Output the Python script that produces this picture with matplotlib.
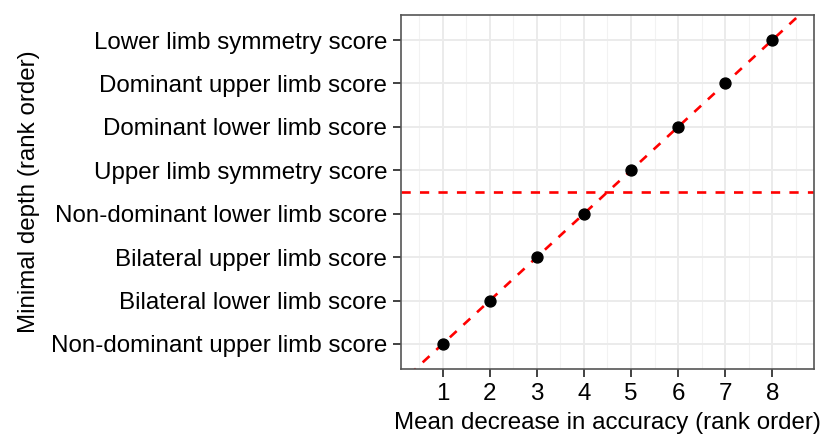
import numpy as np
import matplotlib
matplotlib.use("Agg")
import matplotlib.pyplot as plt
from matplotlib.ticker import FixedLocator

plt.rcParams["font.family"] = ["Liberation Sans", "DejaVu Sans"]

# variables in order of minimal depth rank (bottom to top)
variables = [
    "Non-dominant upper limb score",
    "Bilateral lower limb score",
    "Bilateral upper limb score",
    "Non-dominant lower limb score",
    "Upper limb symmetry score",
    "Dominant lower limb score",
    "Dominant upper limb score",
    "Lower limb symmetry score",
]
accuracy_rank = [1, 2, 3, 4, 5, 6, 7, 8]
depth_rank = [1, 2, 3, 4, 5, 6, 7, 8]
cutoff = 4.5

fig = plt.figure(figsize=(8.25, 4.37), dpi=100)
ax = fig.add_axes([0.486, 0.1556, 0.5007, 0.8101])

ax.set_xlim(0.115, 8.885)
ax.set_ylim(0.424, 8.576)

# grid like ggplot theme_bw
ax.xaxis.set_major_locator(FixedLocator(accuracy_rank))
ax.xaxis.set_minor_locator(FixedLocator(np.arange(0.5, 9.0, 1.0)))
ax.yaxis.set_major_locator(FixedLocator(depth_rank))
ax.grid(which="major", color="#ebebeb", linewidth=1.4, zorder=0)
ax.grid(which="minor", axis="x", color="#f2f2f2", linewidth=0.8, zorder=0)
ax.set_axisbelow(True)

xs = np.array([0.0, 9.5])
ax.plot(xs, xs, color="#ff0000", linestyle=(0, (3.5, 3.5)), linewidth=1.9, zorder=2)
ax.axhline(cutoff, color="#ff0000", linestyle=(0, (3.5, 3.5)), linewidth=1.9, zorder=2)
ax.scatter(accuracy_rank, depth_rank, s=62, color="black", zorder=3)

ax.set_yticklabels(variables)
ax.tick_params(which="major", length=6, width=1.3, color="#333333",
               labelsize=17.4, labelcolor="black", pad=4)
ax.tick_params(which="minor", length=0)

for sp in ax.spines.values():
    sp.set_color("#555555")
    sp.set_linewidth(1.2)

ax.set_xlabel("Mean decrease in accuracy (rank order)", fontsize=17.4, labelpad=5)
ax.set_ylabel("Minimal depth (rank order)", fontsize=17.4, labelpad=8)

fig.savefig("out.png", dpi=100)
